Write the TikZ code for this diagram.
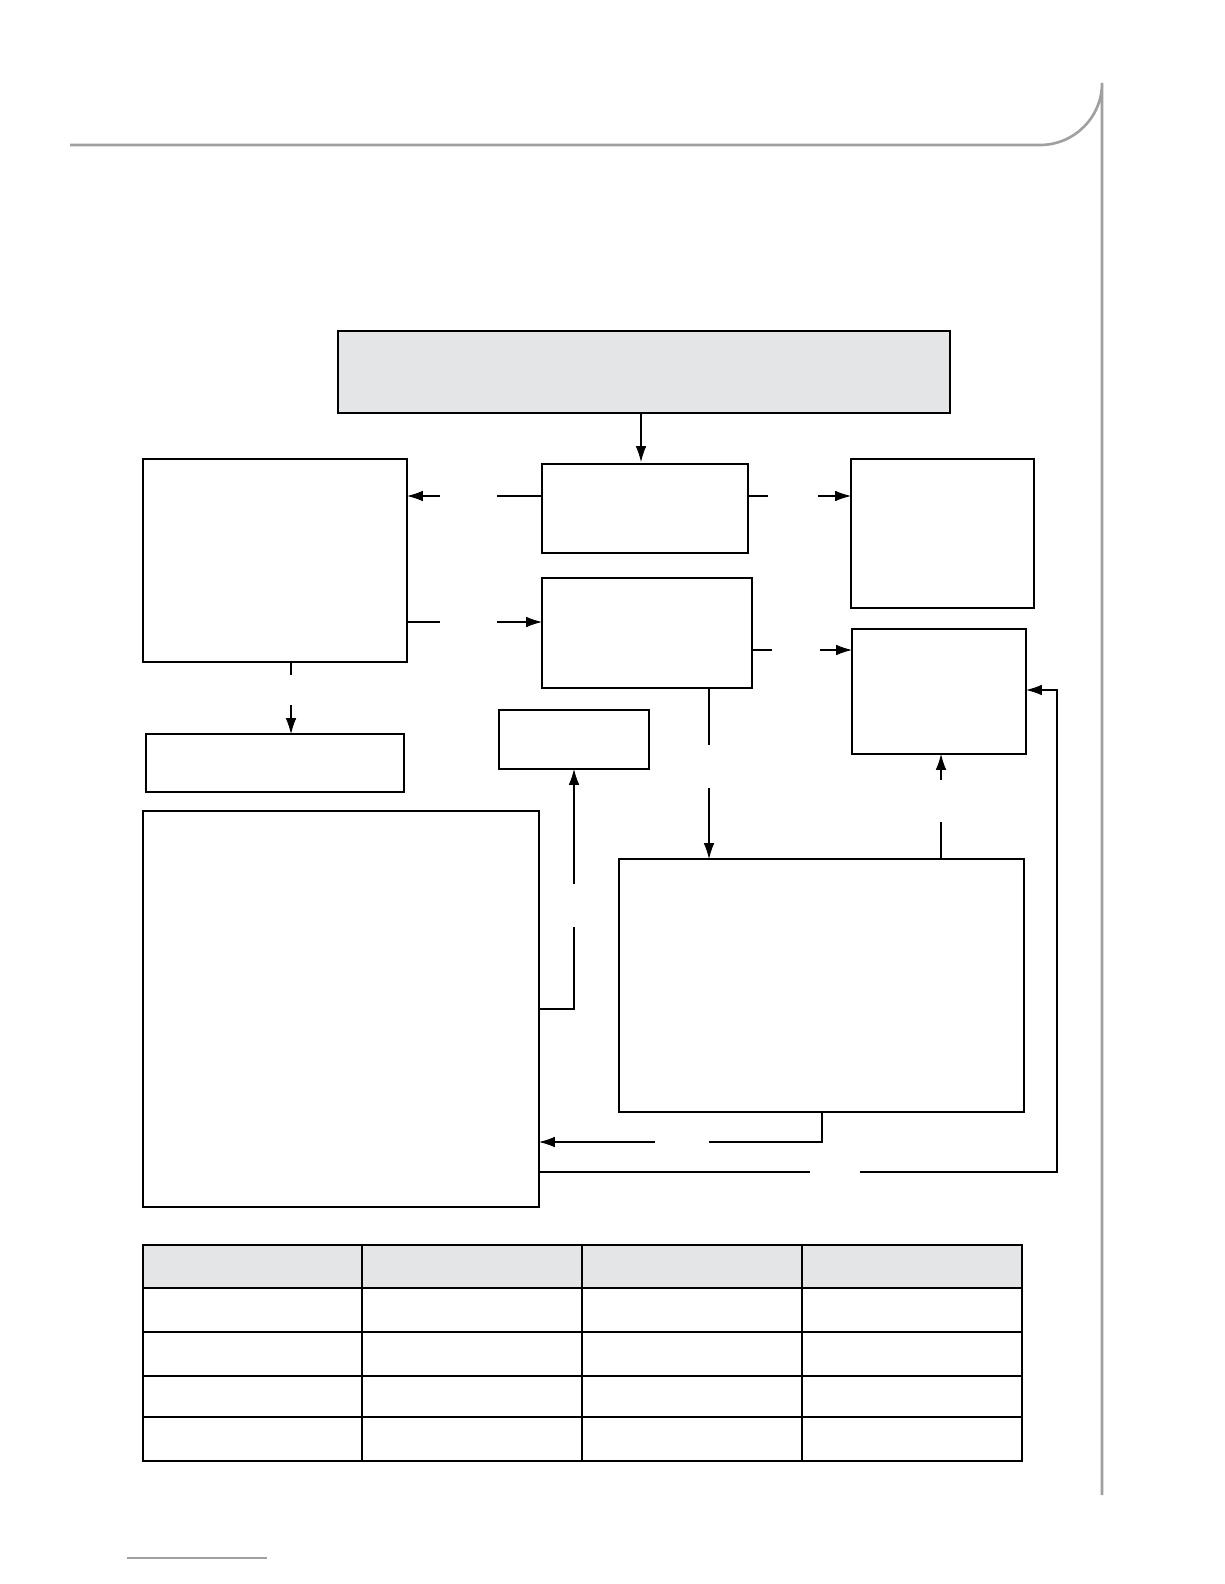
\documentclass[tikz,border=0pt]{standalone}
\usetikzlibrary{arrows.meta}
\begin{document}
\begin{tikzpicture}[x=0.02cm,y=-0.02cm,
  bx/.style={draw=black,line width=0.6pt},
  ln/.style={draw=black,line width=0.6pt},
  ar/.style={ln,-{Latex[length=9pt,width=6pt]}}]
\useasboundingbox (0,0) rectangle (1224,1584);
\definecolor{hdr}{RGB}{228,229,230}
\definecolor{frame}{RGB}{160,160,160}
% page frame
\draw[frame,line width=1.5pt] (70,145) -- (1040,145) arc[start angle=90,end angle=0,radius=62] -- (1102,1495);
\draw[frame,line width=1pt] (127,1558) -- (267,1558);
% boxes
\draw[bx,fill=hdr] (338,331) rectangle (950,413);
\draw[bx] (143,459) rectangle (407,662);
\draw[bx] (542,464) rectangle (748,553);
\draw[bx] (851,459) rectangle (1034,608);
\draw[bx] (542,578) rectangle (752,688);
\draw[bx] (852,629) rectangle (1026,754);
\draw[bx] (146,734) rectangle (404,792);
\draw[bx] (499,710) rectangle (649,769);
\draw[bx] (143,811) rectangle (539,1207);
\draw[bx] (619,859) rectangle (1024,1112);
% connectors
\draw[ar] (641,413) -- (641,462);
\draw[ln] (542,496) -- (497,496); \draw[ar] (440,496) -- (407,496);
\draw[ln] (748,496) -- (768,496); \draw[ar] (818,496) -- (851,496);
\draw[ln] (407,622) -- (440,622); \draw[ar] (497,622) -- (542,622);
\draw[ln] (752,650) -- (772,650); \draw[ar] (820,650) -- (852,650);
\draw[ln] (291,662) -- (291,675); \draw[ar] (291,705) -- (291,734);
\draw[ln] (709,688) -- (709,745); \draw[ar] (709,788) -- (709,859);
\draw[ln] (941,859) -- (941,822); \draw[ar] (941,780) -- (941,754);
\draw[ln] (539,1009) -- (574,1009) -- (574,927); \draw[ar] (574,884) -- (574,769);
\draw[ln] (822,1112) -- (822,1142) -- (709,1142); \draw[ar] (655,1142) -- (539,1142);
\draw[ln] (539,1172) -- (810,1172); \draw[ar] (860,1172) -- (1057,1172) -- (1057,690) -- (1026,690);
% table
\fill[hdr] (143,1245) rectangle (1022,1288);
\draw[ln] (143,1245) rectangle (1022,1461);
\foreach \y in {1288,1332,1376,1417} \draw[ln] (143,\y) -- (1022,\y);
\foreach \x in {362,582,802} \draw[ln] (\x,1245) -- (\x,1461);
\end{tikzpicture}
\end{document}
